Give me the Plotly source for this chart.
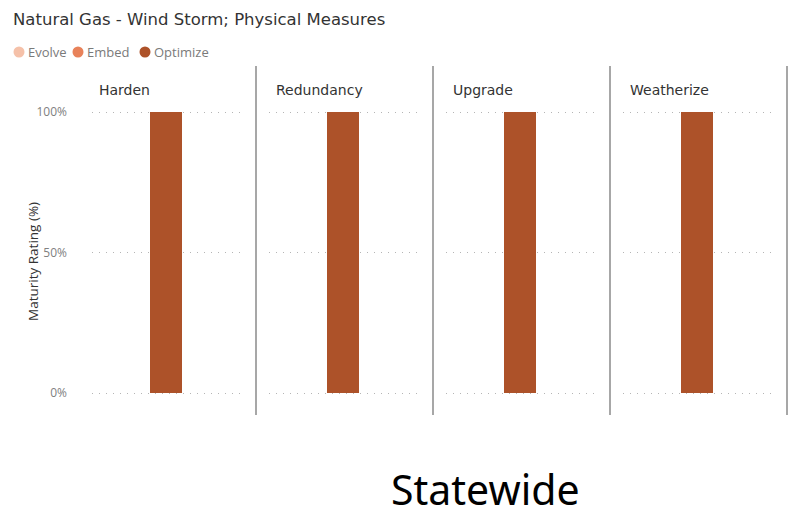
import plotly.graph_objects as go

categories = ["Harden", "Redundancy", "Upgrade", "Weatherize"]
series_names = ["Evolve", "Embed", "Optimize"]
evolve = [0, 0, 0, 0]
embed = [0, 0, 0, 0]
optimize = [1.0, 1.0, 1.0, 1.0]
series_values = [evolve, embed, optimize]
colors = ["#F5C1A9", "#E8825A", "#AD5229"]
y_ticks = [0, 0.5, 1.0]
y_tick_labels = ["0%", "50%", "100%"]

W, H = 794, 519
L, R = 79, 787
T, B = 66, 415
PW = R - L
panel = PW / 4
inset_l, inset_r = 13, 161

fig = go.Figure()
ypx_per_unit = 393 - 112
y0 = -(B - 393) / ypx_per_unit
y1 = 1 + (112 - T) / ypx_per_unit


def ypaper(py):
    return (B - py) / (B - T)


def xpaper(px):
    return (px - L) / PW


for i, cat in enumerate(categories):
    xa = "x" if i == 0 else f"x{i+1}"
    ya = "y" if i == 0 else f"y{i+1}"
    for s, name in enumerate(series_names):
        fig.add_trace(go.Bar(x=[0], y=[series_values[s][i]], width=32 / 148,
                             marker=dict(color=colors[s], line=dict(width=0)),
                             name=name, showlegend=False, xaxis=xa, yaxis=ya,
                             hovertemplate=f"{cat}<br>{name}: %{{y:.0%}}<extra></extra>"))
    d0 = (i * panel + inset_l) / PW
    d1 = (i * panel + inset_r) / PW
    xkey = "xaxis" if i == 0 else f"xaxis{i+1}"
    ykey = "yaxis" if i == 0 else f"yaxis{i+1}"
    fig.layout[xkey] = dict(domain=[d0, d1], range=[-0.5, 0.5], showticklabels=False,
                            showgrid=False, zeroline=False, anchor=ya, fixedrange=True)
    fig.layout[ykey] = dict(domain=[0, 1], range=[y0, y1], tickvals=y_ticks,
                            ticktext=y_tick_labels, showticklabels=(i == 0),
                            showgrid=True, gridcolor="#B5B5B5", griddash="1px,6px", gridwidth=1,
                            zeroline=False, anchor=xa, ticks="", ticklabelstandoff=24,
                            tickfont=dict(family="Open Sans", size=12, color="#808080"))
    fig.add_annotation(x=(i * panel + 18) / PW, y=ypaper(90), xref="paper", yref="paper",
                       text=cat, showarrow=False, xanchor="left", yanchor="middle",
                       font=dict(family="DejaVu Sans", size=14, color="#333333"))
    xd = (i + 1) * panel / PW
    fig.add_shape(type="line", xref="paper", yref="paper", x0=xd, x1=xd, y0=0, y1=1,
                  line=dict(color="#8A8A8A", width=1.5))

# legend: circles as pixel-sized shapes + labels
legend_dot_x = [19, 78, 145]
for s, name in enumerate(series_names):
    fig.add_shape(type="circle", xref="paper", yref="paper",
                  xsizemode="pixel", ysizemode="pixel",
                  xanchor=xpaper(legend_dot_x[s]), yanchor=ypaper(52),
                  x0=-5.5, x1=5.5, y0=-5.5, y1=5.5,
                  fillcolor=colors[s], line=dict(width=0))
    fig.add_annotation(x=xpaper(legend_dot_x[s] + 7), y=ypaper(52), xref="paper", yref="paper",
                       text=name, showarrow=False, xanchor="left", yanchor="middle",
                       font=dict(family="Open Sans", size=13, color="#7A7A7A"))

fig.add_annotation(x=xpaper(22), y=ypaper(262), xref="paper", yref="paper",
                   text="Maturity Rating (%)", textangle=-90, showarrow=False,
                   font=dict(family="Open Sans", size=13.5, color="#333333"))

fig.add_annotation(x=xpaper(485), y=ypaper(519), xref="paper", yref="paper",
                   text="Statewide", showarrow=False, yanchor="bottom",
                   font=dict(family="Noto Sans", size=41, color="#000000"))

fig.update_layout(
    width=W, height=H,
    margin=dict(l=L, r=W - R, t=T, b=H - B),
    paper_bgcolor="white", plot_bgcolor="white",
    barmode="stack", bargap=0,
    title=dict(text="Natural Gas - Wind Storm; Physical Measures", x=13 / W, y=1 - 19 / H,
               xanchor="left", yanchor="middle",
               font=dict(family="DejaVu Sans", size=16.5, color="#333333")),
    showlegend=False,
)

fig.write_html("out.html", config={"displayModeBar": False},
               post_script="document.body.style.margin='0';")
